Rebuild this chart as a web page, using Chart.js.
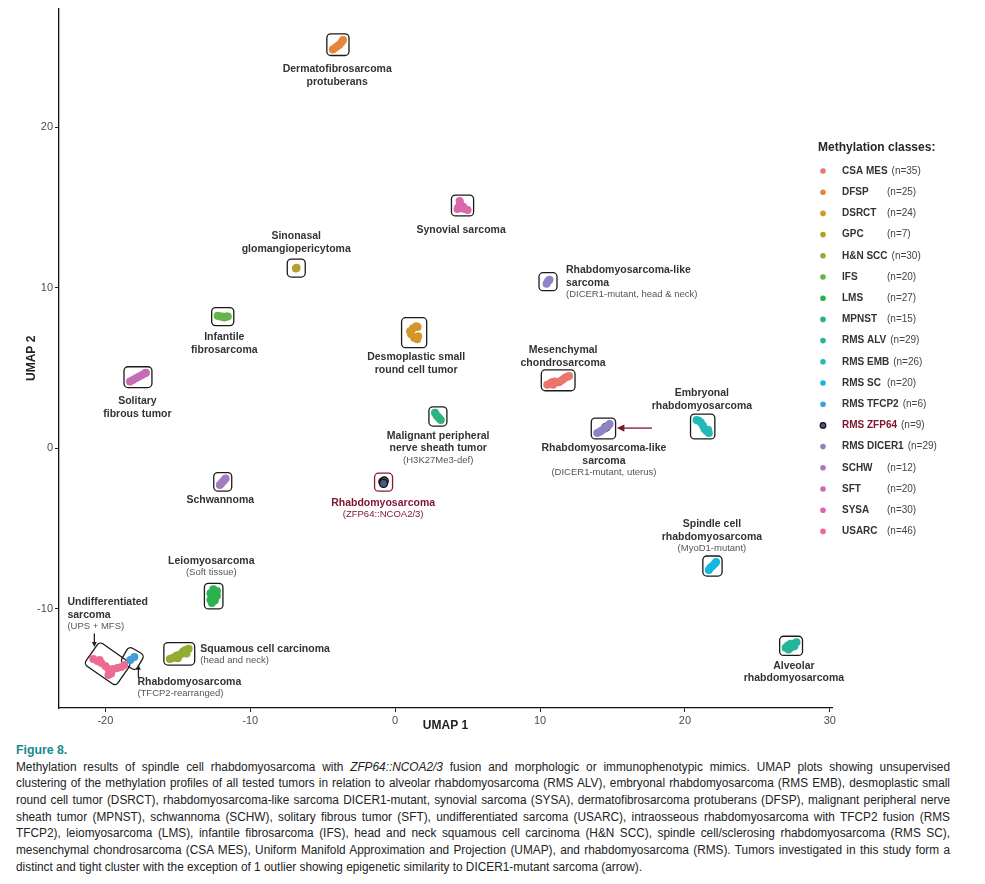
<!DOCTYPE html>
<html>
  <head>
    <script src="https://cdn.jsdelivr.net/npm/chart.js@4.4.1/dist/chart.umd.min.js"></script>
    <style>
      body { margin: 0; background: white; }
      #wrap { width: 985px; }
      #caption {
        margin: 7px 0 0 16px;
        width: 934px;
        font-family: "Liberation Sans", Arial, sans-serif;
        font-size: 12.5px;
        color: #222;
        line-height: 16.7px;
      }
      #caption .fig { color: #17898e; font-weight: bold; font-size: 13px; }
      #caption .fig span, #caption .ln span { display: inline-block; white-space: nowrap; transform-origin: 0 50%; }
      #caption .ln { height: 16.7px; white-space: nowrap; }
    </style>
  </head>
  <body>
    <div id="wrap">
      <canvas id="c" width="985" height="735"></canvas>
      <div id="caption">
        <div class="fig"><span>Figure 8.</span></div>
        <div class="ln"><span>Methylation results of spindle cell rhabdomyosarcoma with <i>ZFP64::NCOA2/3</i> fusion and morphologic or immunophenotypic mimics. UMAP plots showing unsupervised</span></div>
        <div class="ln"><span>clustering of the methylation profiles of all tested tumors in relation to alveolar rhabdomyosarcoma (RMS ALV), embryonal rhabdomyosarcoma (RMS EMB), desmoplastic small</span></div>
        <div class="ln"><span>round cell tumor (DSRCT), rhabdomyosarcoma-like sarcoma DICER1-mutant, synovial sarcoma (SYSA), dermatofibrosarcoma protuberans (DFSP), malignant peripheral nerve</span></div>
        <div class="ln"><span>sheath tumor (MPNST), schwannoma (SCHW), solitary fibrous tumor (SFT), undifferentiated sarcoma (USARC), intraosseous rhabdomyosarcoma with TFCP2 fusion (RMS</span></div>
        <div class="ln"><span>TFCP2), leiomyosarcoma (LMS), infantile fibrosarcoma (IFS), head and neck squamous cell carcinoma (H&amp;N SCC), spindle cell/sclerosing rhabdomyosarcoma (RMS SC),</span></div>
        <div class="ln"><span>mesenchymal chondrosarcoma (CSA MES), Uniform Manifold Approximation and Projection (UMAP), and rhabdomyosarcoma (RMS). Tumors investigated in this study form a</span></div>
        <div class="ln last"><span>distinct and tight cluster with the exception of 1 outlier showing epigenetic similarity to DICER1-mutant sarcoma (arrow).</span></div>
      </div>
    </div>
    <script>
      const classNames = ["CSA MES", "DFSP", "DSRCT", "GPC", "H&N SCC", "IFS", "LMS", "MPNST", "RMS ALV",
        "RMS EMB", "RMS SC", "RMS TFCP2", "RMS ZFP64", "RMS DICER1", "SCHW", "SFT", "SYSA", "USARC"];
      const classCounts = [35, 25, 24, 7, 30, 20, 27, 15, 29, 26, 20, 6, 9, 29, 12, 20, 30, 46];
      const classColors = ["#ea766c", "#e8853a", "#d4952a", "#b5a02a", "#93ad34", "#63b54c", "#2db14f", "#2db37e",
        "#27b599", "#24b8b6", "#14b8df", "#3e9fd9", "#4a5a85", "#8c85c5", "#a37bc0", "#c46db6", "#db68ab", "#ec6b93"];

      // UMAP coordinates, one list per visible cluster
      const csaMes = [[10.5, 3.95], [10.65, 4.0], [10.8, 4.1], [11.0, 4.15], [11.15, 4.1], [11.3, 4.1], [11.45, 4.2],
        [11.6, 4.3], [11.75, 4.4], [11.9, 4.45], [12.0, 4.5], [10.9, 3.95]];
      const dfsp = [[-4.3, 24.85], [-4.15, 24.95], [-4.0, 25.05], [-3.85, 25.15], [-3.7, 25.3], [-3.6, 25.45]];
      const dsrct = [[1.45, 7.6], [1.24, 7.48], [1.03, 7.29], [1.1, 7.1], [1.31, 6.88], [1.52, 6.79], [1.59, 6.98], [1.55, 7.55]];
      const gpc = [[-6.85, 11.2], [-6.8, 11.25]];
      const hnScc = [[-15.55, -13.15], [-15.4, -13.1], [-15.25, -13.05], [-15.1, -12.95], [-14.95, -12.9], [-14.8, -12.85],
        [-14.65, -12.7], [-14.5, -12.6], [-14.35, -12.55], [-14.25, -12.5], [-15.0, -13.1], [-14.4, -12.8]];
      const ifs = [[-12.25, 8.25], [-12.1, 8.2], [-11.95, 8.2], [-11.8, 8.15], [-11.65, 8.2], [-11.55, 8.2]];
      const lms = [[-12.55, -8.8], [-12.3, -8.9], [-12.75, -9.05], [-12.5, -9.1], [-12.3, -9.2], [-12.6, -9.3],
        [-12.75, -9.45], [-12.65, -9.65], [-12.45, -9.5]];
      const mpnst = [[2.75, 2.2], [2.85, 2.05], [2.95, 1.95], [3.05, 1.85], [3.15, 1.75]];
      const rmsAlv = [[26.95, -12.45], [27.1, -12.3], [27.3, -12.2], [27.5, -12.2], [27.7, -12.1], [27.3, -12.45],
        [27.15, -12.55], [27.55, -12.35]];
      const rmsEmb = [[20.8, 1.75], [20.95, 1.7], [21.1, 1.6], [21.25, 1.4], [21.35, 1.2], [21.5, 1.05], [21.65, 0.95], [21.6, 1.15]];
      const rmsSc = [[21.65, -7.6], [21.75, -7.45], [21.9, -7.35], [22.05, -7.2], [22.15, -7.1]];
      const rmsTfcp2 = [[-18.28, -13.21], [-18.0, -13.02]];
      const rmsZfp64 = [[-0.85, -2.1], [-0.75, -2.05], [-0.8, -2.2]];
      const rmsZfp64Outlier = [[14.55, 1.3]];
      const dicer1HeadNeck = [[10.45, 10.25], [10.55, 10.4], [10.65, 10.5]];
      const dicer1Uterus = [[13.95, 0.95], [14.1, 1.0], [14.25, 1.1], [14.4, 1.2], [14.55, 1.3], [14.7, 1.4], [14.8, 1.5]];
      const schw = [[-12.1, -2.3], [-12.0, -2.2], [-11.9, -2.1], [-11.8, -2.0], [-11.7, -1.9]];
      const sft = [[-18.3, 4.15], [-18.1, 4.25], [-17.9, 4.35], [-17.7, 4.45], [-17.5, 4.55], [-17.3, 4.65], [-17.2, 4.7]];
      const sysa = [[4.45, 15.4], [4.5, 15.25], [4.55, 15.1], [4.35, 15.0], [4.3, 14.9], [4.6, 14.95], [4.8, 14.9],
        [5.0, 14.85], [4.45, 15.1], [4.7, 15.05]];
      const usarc = [[-20.83, -13.15], [-20.55, -13.27], [-20.4, -13.2], [-20.28, -13.4], [-20.0, -13.58], [-19.79, -13.77],
        [-19.66, -13.96], [-19.79, -14.14], [-19.6, -14.05], [-19.45, -13.77], [-19.17, -13.71], [-18.9, -13.64], [-18.69, -13.52]];

      const xTicks = [-20, -10, 0, 10, 20, 30];
      const yTicks = [-10, 0, 10, 20];

      // cluster -> class index, box rotation (deg), box colour
      const clusters = [
        { pts: csaMes, cls: 0 }, { pts: dfsp, cls: 1 }, { pts: dsrct, cls: 2, pad: 8.5 }, { pts: gpc, cls: 3 },
        { pts: hnScc, cls: 4 }, { pts: ifs, cls: 5 }, { pts: lms, cls: 6 }, { pts: mpnst, cls: 7 },
        { pts: rmsAlv, cls: 8 }, { pts: rmsEmb, cls: 9 }, { pts: rmsSc, cls: 10 },
        { pts: rmsTfcp2, cls: 11, rot: 30 }, { pts: rmsZfp64, cls: 12, edge: "#8b1a30" },
        { pts: dicer1HeadNeck, cls: 13 }, { pts: dicer1Uterus, cls: 13, join: 15 },
        { pts: rmsZfp64Outlier, cls: 12, nobox: true },
        { pts: schw, cls: 14 }, { pts: sft, cls: 15 }, { pts: sysa, cls: 16 }, { pts: usarc, cls: 17, rot: 35, pad: 5 },
      ];

      // text labels: anchor of first line in UMAP units
      const labels = [
        { at: [-4.0, 23.6], lines: [["b", "Dermatofibrosarcoma"], ["b", "protuberans"]] },
        { at: [4.55, 13.58], lines: [["b", "Synovial sarcoma"]] },
        { at: [-6.83, 13.21], lines: [["b", "Sinonasal"], ["b", "glomangiopericytoma"]] },
        { at: [11.79, 11.09], align: "left", lines: [["b", "Rhabdomyosarcoma-like"], ["b", "sarcoma"], ["s", "(DICER1-mutant, head & neck)"]] },
        { at: [-11.79, 6.92], lines: [["b", "Infantile"], ["b", "fibrosarcoma"]] },
        { at: [1.45, 5.67], lines: [["b", "Desmoplastic small"], ["b", "round cell tumor"]] },
        { at: [11.59, 6.11], lines: [["b", "Mesenchymal"], ["b", "chondrosarcoma"]] },
        { at: [21.17, 3.43], lines: [["b", "Embryonal"], ["b", "rhabdomyosarcoma"]] },
        { at: [-17.79, 2.93], lines: [["b", "Solitary"], ["b", "fibrous tumor"]] },
        { at: [2.97, 0.75], lines: [["b", "Malignant peripheral"], ["b", "nerve sheath tumor"], ["s", "(H3K27Me3-def)"]] },
        { at: [14.41, 0.0], lines: [["b", "Rhabdomyosarcoma-like"], ["b", "sarcoma"], ["s", "(DICER1-mutant, uterus)"]] },
        { at: [-12.07, -3.24], lines: [["b", "Schwannoma"]] },
        { at: [-0.83, -3.43], color: "#7d1430", lines: [["b", "Rhabdomyosarcoma"], ["s", "(ZFP64::NCOA2/3)"]] },
        { at: [21.86, -4.74], lines: [["b", "Spindle cell"], ["b", "rhabdomyosarcoma"], ["s", "(MyoD1-mutant)"]] },
        { at: [-12.69, -7.04], lines: [["b", "Leiomyosarcoma"], ["s", "(Soft tissue)"]] },
        { at: [-22.62, -9.6], align: "left", lines: [["b", "Undifferentiated"], ["b", "sarcoma"], ["s", "(UPS + MFS)"]] },
        { at: [-13.45, -12.52], align: "left", lines: [["b", "Squamous cell carcinoma"], ["s", "(head and neck)"]] },
        { at: [-17.79, -14.58], align: "left", lines: [["b", "Rhabdomyosarcoma"], ["s", "(TFCP2-rearranged)"]] },
        { at: [27.52, -13.58], lines: [["b", "Alveolar"], ["b", "rhabdomyosarcoma"]] },
      ];

      const arrows = [
        { from: [-20.76, -11.55], to: [-20.76, -12.4], color: "#222", head: 4 },
        { from: [-17.72, -14.3], to: [-17.72, -13.5], color: "#222", head: 4 },
        { from: [17.72, 1.25], to: [15.3, 1.25], color: "#7d1430", head: 6 },
      ];

      const FONT = '"Liberation Sans", Arial, sans-serif';

      function roundRect(ctx, x, y, w, h, r) {
        ctx.beginPath();
        ctx.moveTo(x + r, y);
        ctx.arcTo(x + w, y, x + w, y + h, r);
        ctx.arcTo(x + w, y + h, x, y + h, r);
        ctx.arcTo(x, y + h, x, y, r);
        ctx.arcTo(x, y, x + w, y, r);
        ctx.closePath();
      }

      const boxPlugin = {
        id: "boxes",
        beforeDatasetsDraw(chart) {
          const ctx = chart.ctx;
          clusters.forEach((cl, i) => {
            if (cl.nobox) return;
            let els = chart.getDatasetMeta(i).data.slice();
            if (cl.join !== undefined) els = els.concat(chart.getDatasetMeta(cl.join).data);
            const a = ((cl.rot || 0) * Math.PI) / 180;
            const c = Math.cos(a), s = Math.sin(a);
            let x0 = 1e9, x1 = -1e9, y0 = 1e9, y1 = -1e9;
            els.forEach((e) => {
              const u = e.x * c + e.y * s, v = -e.x * s + e.y * c;
              x0 = Math.min(x0, u); x1 = Math.max(x1, u);
              y0 = Math.min(y0, v); y1 = Math.max(y1, v);
            });
            const pad = cl.pad || 6;
            let w = x1 - x0 + 2 * pad, h = y1 - y0 + 2 * pad;
            w = Math.max(w, 18); h = Math.max(h, 18);
            const cu = (x0 + x1) / 2, cv = (y0 + y1) / 2;
            ctx.save();
            ctx.rotate(a);
            ctx.translate(cu, cv);
            roundRect(ctx, -w / 2, -h / 2, w, h, 4);
            ctx.lineWidth = 1.3;
            ctx.strokeStyle = cl.edge || "#1a1a1a";
            ctx.stroke();
            ctx.restore();
          });
        },
        afterDraw(chart) {
          const ctx = chart.ctx;
          const xs = chart.scales.x, ys = chart.scales.y;
          ctx.save();
          labels.forEach((lb) => {
            const px = xs.getPixelForValue(lb.at[0]);
            let py = ys.getPixelForValue(lb.at[1]);
            ctx.textAlign = lb.align || "center";
            ctx.textBaseline = "middle";
            lb.lines.forEach((ln, k) => {
              if (ln[0] === "b") {
                ctx.font = "bold 10.5px " + FONT;
                ctx.fillStyle = lb.color || "#333";
              } else {
                ctx.font = "9.5px " + FONT;
                ctx.fillStyle = lb.color || "#555";
              }
              ctx.fillText(ln[1], px, py);
              py += ln[0] === "b" && lb.lines[k + 1] && lb.lines[k + 1][0] === "s" ? 11.5 : 12.5;
            });
          });
          arrows.forEach((ar) => {
            const x0 = xs.getPixelForValue(ar.from[0]), y0 = ys.getPixelForValue(ar.from[1]);
            const x1 = xs.getPixelForValue(ar.to[0]), y1 = ys.getPixelForValue(ar.to[1]);
            const ang = Math.atan2(y1 - y0, x1 - x0);
            ctx.strokeStyle = ar.color;
            ctx.fillStyle = ar.color;
            ctx.lineWidth = 1.3;
            ctx.beginPath();
            ctx.moveTo(x0, y0);
            ctx.lineTo(x1 - Math.cos(ang) * ar.head * 0.8, y1 - Math.sin(ang) * ar.head * 0.8);
            ctx.stroke();
            ctx.beginPath();
            ctx.moveTo(x1, y1);
            ctx.lineTo(x1 - Math.cos(ang - 0.45) * ar.head * 1.4, y1 - Math.sin(ang - 0.45) * ar.head * 1.4);
            ctx.lineTo(x1 - Math.cos(ang + 0.45) * ar.head * 1.4, y1 - Math.sin(ang + 0.45) * ar.head * 1.4);
            ctx.closePath();
            ctx.fill();
          });

          // legend
          ctx.textAlign = "left";
          ctx.textBaseline = "middle";
          ctx.font = "bold 12px " + FONT;
          ctx.fillStyle = "#262626";
          ctx.fillText("Methylation classes:", 818, 148);
          classNames.forEach((name, i) => {
            const y = 171 + i * 21.2;
            ctx.beginPath();
            ctx.arc(823, y, 2.8, 0, Math.PI * 2);
            ctx.fillStyle = classColors[i];
            ctx.fill();
            if (name === "RMS ZFP64") {
              ctx.lineWidth = 1.2;
              ctx.strokeStyle = "#111";
              ctx.stroke();
            }
            ctx.font = "bold 10px " + FONT;
            ctx.fillStyle = name === "RMS ZFP64" ? "#7d1430" : "#333";
            ctx.fillText(name, 842, y);
            const end = 842 + ctx.measureText(name).width;
            ctx.font = "10px " + FONT;
            ctx.fillStyle = "#444";
            ctx.fillText("(n=" + classCounts[i] + ")", Math.max(887, end + 4), y);
          });
          ctx.restore();
        },
      };

      const datasets = clusters.map((cl) => ({
        data: cl.pts.map((p) => ({ x: p[0], y: p[1] })),
        backgroundColor: classColors[cl.cls],
        borderColor: cl.cls === 12 ? "#111" : classColors[cl.cls],
        borderWidth: cl.cls === 12 ? 1.3 : 0,
        pointRadius: 4,
      }));

      function axis(min, max, ticks, title, fit) {
        return {
          type: "linear",
          min: min,
          max: max,
          afterBuildTicks: (s) => { s.ticks = ticks.map((v) => ({ value: v })); },
          afterFit: fit,
          grid: { drawOnChartArea: false, tickLength: 4, color: "#222", lineWidth: 1 },
          border: { color: "#111", width: 1.3 },
          ticks: { color: "#4d4d4d", font: { size: 11, family: FONT }, padding: 2 },
          title: { display: true, text: title, color: "#222", font: { size: 12, weight: "bold", family: FONT }, padding: { top: 0, bottom: 2 } },
        };
      }

      new Chart(document.getElementById("c"), {
        type: "scatter",
        data: { datasets },
        options: {
          responsive: false,
          animation: false,
          layout: { padding: { top: 8, right: 153, left: 24, bottom: 0 } },
          plugins: { legend: { display: false }, tooltip: { enabled: false } },
          scales: {
            x: axis(-23.2, 30.15, xTicks, "UMAP 1", (s) => { s.height = 27; }),
            y: axis(-16.2, 27.4, yTicks, "UMAP 2", (s) => { s.width = 35; }),
          },
        },
        plugins: [boxPlugin],
      });

      // condense the caption like the printed figure and justify each line
      const target = 934;
      const lines = Array.from(document.querySelectorAll("#caption .ln span"));
      const widths = lines.map((s) => s.getBoundingClientRect().width);
      const k = Math.min(...widths.map((w) => target / w)) * 0.985;
      lines.forEach((s, i) => {
        const isLast = s.parentNode.classList.contains("last");
        if (!isLast) {
          const spaces = (s.textContent.match(/ /g) || []).length;
          s.style.wordSpacing = (target / k - widths[i]) / spaces + "px";
        }
        s.style.transform = "scaleX(" + k + ")";
      });
      document.querySelector("#caption .fig span").style.transform = "scaleX(" + k + ")";
    </script>
  </body>
</html>
